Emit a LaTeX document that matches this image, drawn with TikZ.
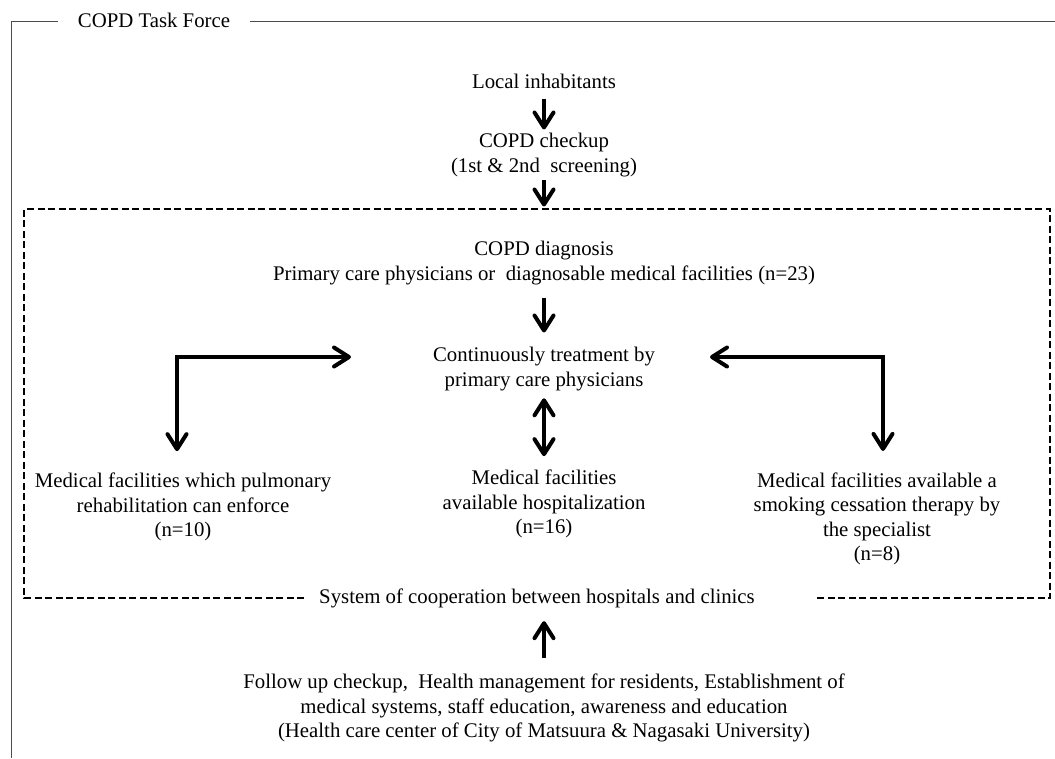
\documentclass[tikz,border=0pt]{standalone}
\usepackage{fontspec}
\setmainfont{Liberation Serif}
\usepackage{tikz}
\usetikzlibrary{arrows.meta}

\tikzset{
  txt/.style={inner sep=0pt, align=center, font=\fontsize{20.8}{24.5}\selectfont},
  arr/.style={line width=4pt, -{Straight Barb[length=15pt,width=19pt,round]}},
  dblarr/.style={line width=4pt, {Straight Barb[length=15pt,width=19pt,round]}-{Straight Barb[length=15pt,width=19pt,round]}},
  frame/.style={line width=1pt, black!70},
  dashbox/.style={line width=2pt, dash pattern=on 7pt off 3.5pt},
}

\begin{document}
\begin{tikzpicture}[x=1pt,y=-1pt]
\useasboundingbox (0,0) rectangle (1055,758);
\node[txt] (title) at (154,20) {COPD Task Force};
\node[txt] (local) at (544,81) {Local inhabitants};
\node[txt] (checkup) at (544,155) {COPD checkup\\(1st \& 2nd \ screening)};
\node[txt] (diag) at (544,263) {COPD diagnosis\\Primary care physicians or \ diagnosable medical facilities (n=23)};
\node[txt] (treat) at (544,369) {Continuously treatment by\\primary care physicians};
\node[txt] (rehab) at (183,507) {Medical facilities which pulmonary\\rehabilitation can enforce\\(n=10)};
\node[txt] (hosp) at (544,504) {Medical facilities\\available hospitalization\\(n=16)};
\node[txt] (smoke) at (877,519) {Medical facilities available a\\smoking cessation therapy by\\the specialist\\(n=8)};
\node[txt] (coop) at (537,598) {System of cooperation between hospitals and clinics};
\node[txt] (follow) at (544,708) {Follow up checkup, \ Health management for residents, Establishment of\\medical systems, staff education, awareness and education\\(Health care center of City of Matsuura \& Nagasaki University)};
\coordinate (ltip) at (351,357);
\coordinate (rtip) at (710,357);

%%%%%outer frame and dashed area
\draw[frame] (58,21) -- (11,21) -- (11,758);
\draw[frame] (250,21) -- (1055,21);
\draw[dashbox] (304,598) -- (24,598) -- (24,209) -- (1050,209) -- (1050,598) -- (815,598);

%%%%%arrows
\draw[arr, shorten <=10pt, shorten >=3.6pt] (local.south) -- (checkup.north);
\draw[arr, shorten <=3.4pt, shorten >=34.6pt] (checkup.south) -- (diag.north);
\draw[arr, shorten <=13pt, shorten >=14.6pt] (diag.south) -- (treat.north);
\draw[dblarr, shorten <=7.4pt, shorten >=13.6pt] (treat.south) -- (hosp.north);
\draw[dblarr, shorten >=21.6pt] (ltip) -| ([xshift=-6pt]rehab.north);
\draw[dblarr, shorten >=21.6pt] (rtip) -| ([xshift=6pt]smoke.north);
\draw[arr, shorten <=15.6pt, shorten >=13.4pt] (follow.north) -- (follow.north |- coop.south);
\end{tikzpicture}
\end{document}
